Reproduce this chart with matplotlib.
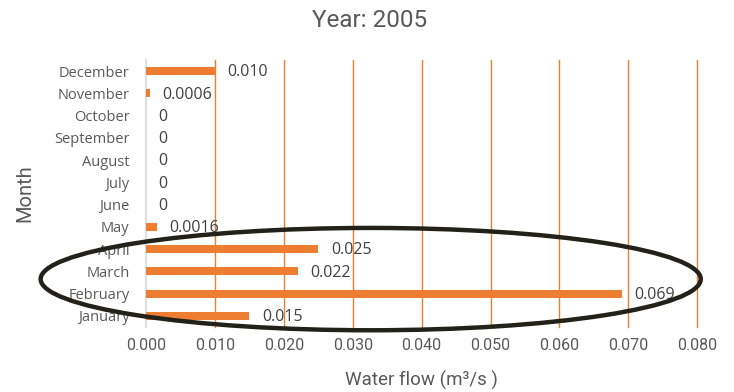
import matplotlib.pyplot as plt
from matplotlib.patches import Ellipse

# monthly water flow, year 2005
months = ['January', 'February', 'March', 'April', 'May', 'June', 'July',
          'August', 'September', 'October', 'November', 'December']
flow = [0.015, 0.069, 0.022, 0.025, 0.0016, 0, 0, 0, 0, 0, 0.0006, 0.010]
flow_labels = ['0.015', '0.069', '0.022', '0.025', '0.0016', '0', '0', '0',
               '0', '0', '0.0006', '0.010']
xticks = [0.0, 0.01, 0.02, 0.03, 0.04, 0.05, 0.06, 0.07, 0.08]

ORANGE = '#ED7D31'
GREY = '#595959'

fig = plt.figure(figsize=(7.34, 3.92), dpi=100)
ax = fig.add_axes([0.199, 0.166, 0.751, 0.681])

y = range(len(months))
ax.barh(y, flow, height=0.36, color=ORANGE, zorder=3)

for i, (v, lab) in enumerate(zip(flow, flow_labels)):
    ax.annotate(lab, (v, i), xytext=(9, -1), textcoords='offset points',
                va='center', ha='left', fontsize=11.5, color='#404040',
                family='Open Sans', zorder=4)

ax.set_xlim(0, 0.08)
ax.set_ylim(-0.5, len(months) - 0.5)
ax.set_xticks(xticks)
ax.set_xticklabels([f'{t:.3f}' for t in xticks], family='Roboto',
                   fontsize=11.5, color=GREY)
ax.set_yticks(list(y))
ax.set_yticklabels(months, family='Open Sans', fontsize=10.5, color=GREY)
ax.tick_params(axis='y', length=0, pad=12)
ax.tick_params(axis='x', length=0, pad=8)

# vertical gridlines in orange, zero axis in light grey
for t in xticks[1:]:
    ax.axvline(t, color=ORANGE, linewidth=1, zorder=1, clip_on=False)
ax.axvline(0, color='#D9D9D9', linewidth=1.2, zorder=2, clip_on=False)
for s in ax.spines.values():
    s.set_visible(False)

fig.text(0.503, 0.948, 'Year: 2005', fontsize=17.5, color=GREY,
         family='Roboto', ha='center', va='center')
ax.set_xlabel('Water flow (m³/s )', fontsize=13.5, color=GREY,
              family='Roboto', labelpad=13)
ax.set_ylabel('Month', fontsize=14.5, color=GREY, family='Roboto',
              labelpad=14)

# hand-drawn highlight around Jan-Apr
ring = Ellipse((0.0326, 1.65), width=0.0958, height=4.6, fill=False,
               edgecolor='#22221a', linewidth=3.2, clip_on=False, zorder=5)
ax.add_patch(ring)

fig.savefig('out.png', dpi=100)
